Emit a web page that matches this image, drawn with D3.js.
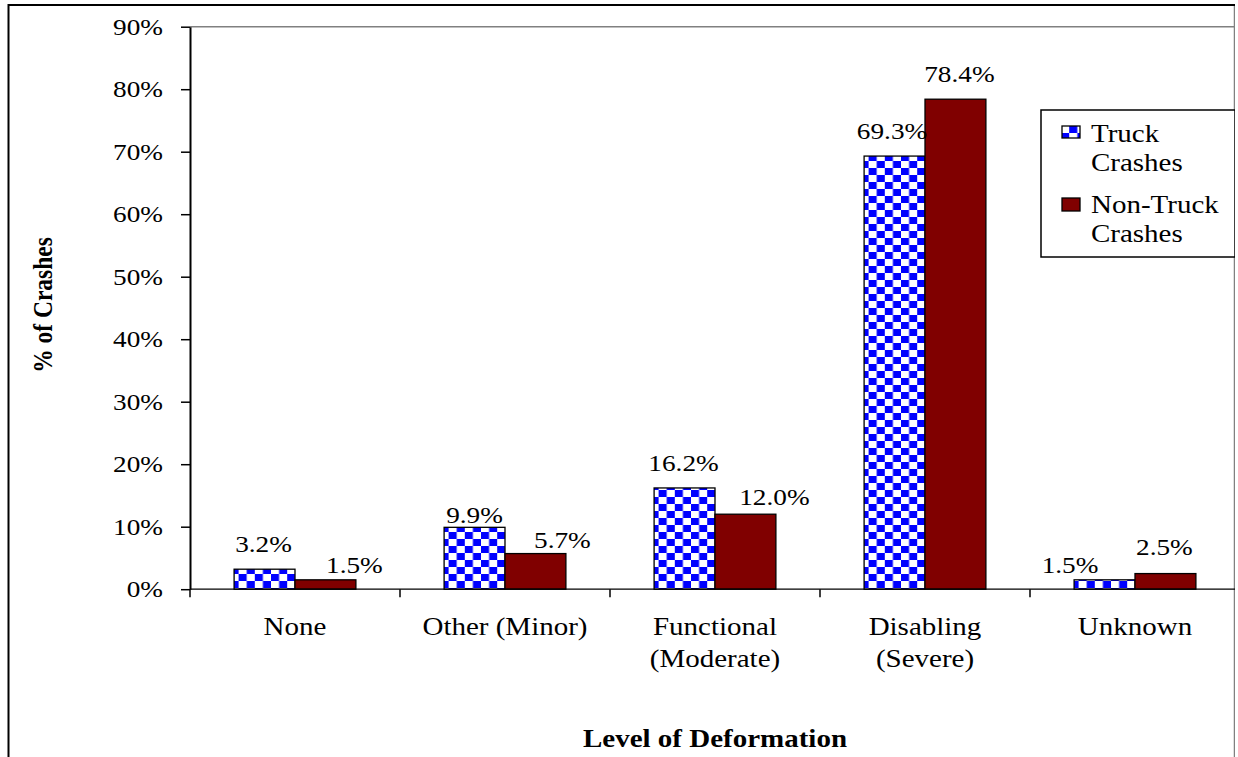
<!DOCTYPE html>
<html>
<head>
<meta charset="utf-8">
<script src="https://cdn.jsdelivr.net/npm/d3@7"></script>
<style>
  html, body { margin: 0; padding: 0; background: #fff; }
  svg { display: block; }
</style>
</head>
<body>
<svg id="chart" width="1238" height="757"></svg>
<script>
// ---- data ----
const categories = ["None", "Other (Minor)", "Functional\n(Moderate)", "Disabling\n(Severe)", "Unknown"];
const truckPct = [3.2, 9.9, 16.2, 69.3, 1.5];
const nonTruckPct = [1.5, 5.7, 12.0, 78.4, 2.5];
const seriesNames = ["Truck\nCrashes", "Non-Truck\nCrashes"];
const yTickValues = [0, 10, 20, 30, 40, 50, 60, 70, 80, 90];

// hand-placed offsets of the value labels [dx, dy] in px
const truckLabelNudge = [[-1, 0], [0, 13], [-1, 0], [-2.5, 0], [-34.5, 10]];
const nonTruckLabelNudge = [[29, 10], [27, 11], [29, 8], [4, 0], [-1, -1.5]];

// ---- layout ----
const W = 1238, H = 757;
const SX = 1.16;                 // glyphs are drawn slightly wide
const plot = { left: 190, right: 1240, top: 26.7, bottom: 589.2 };
const FONT = '"Liberation Serif", "Times New Roman", serif';
const FONT_NUM = 23.5, FONT_CAT = 25, FONT_TITLE = 25, FONT_YTITLE = 23.5;
const TRUCK_FILL = "url(#checker)", NONTRUCK_FILL = "#800000";

const svg = d3.select("#chart");
const defs = svg.append("defs");

// blue / white checkerboard fill
const pat = defs.append("pattern")
  .attr("id", "checker").attr("patternUnits", "userSpaceOnUse")
  .attr("width", 16.2).attr("height", 14);
pat.append("rect").attr("width", 16.2).attr("height", 14).attr("fill", "#fff");
pat.append("rect").attr("x", 0).attr("y", 0).attr("width", 8.1).attr("height", 7).attr("fill", "#0000ff");
pat.append("rect").attr("x", 8.1).attr("y", 7).attr("width", 8.1).attr("height", 7).attr("fill", "#0000ff");

defs.append("clipPath").attr("id", "frame")
  .append("rect").attr("x", 0).attr("y", 0).attr("width", 1235).attr("height", H);

const root = svg.append("g").attr("clip-path", "url(#frame)");

// text styling shared by every label
function styleText(sel, size, bold) {
  return sel.style("font-family", FONT).style("font-size", size + "px")
    .style("font-weight", bold ? "bold" : "normal").style("fill", "#000");
}
// place a text element at (x, y) with horizontally widened glyphs
function placeText(sel, x, y) {
  return sel.attr("x", x / SX).attr("y", y).attr("transform", `scale(${SX},1)`);
}

// ---- scales ----
const x = d3.scaleBand().domain(categories).range([plot.left, plot.right]).paddingInner(0).paddingOuter(0);
const groupW = x.bandwidth() * 0.58;
const xs = d3.scaleBand().domain([0, 1])
  .range([(x.bandwidth() - groupW) / 2, (x.bandwidth() + groupW) / 2]);
const y = d3.scaleLinear().domain([0, 90]).range([plot.bottom, plot.top]);

// ---- frame ----
root.append("line").attr("x1", 1234.5).attr("x2", 1234.5).attr("y1", 5).attr("y2", H)
  .attr("stroke", "#808080").attr("stroke-width", 1.5);
root.append("line").attr("x1", plot.left).attr("x2", 1235).attr("y1", y(90)).attr("y2", y(90))
  .attr("stroke", "#808080").attr("stroke-width", 1.5);

// ---- bars ----
const rows = categories.map((c, i) => ({ cat: c, i, vals: [truckPct[i], nonTruckPct[i]] }));
const groups = root.append("g").selectAll("g").data(rows).join("g")
  .attr("transform", d => `translate(${x(d.cat)},0)`);

groups.selectAll("rect")
  .data(d => d.vals.map((v, s) => ({ v, s })))
  .join("rect")
  .attr("x", d => xs(d.s))
  .attr("width", xs.bandwidth())
  .attr("y", d => y(d.v))
  .attr("height", d => y(0) - y(d.v))
  .attr("fill", d => d.s === 0 ? TRUCK_FILL : NONTRUCK_FILL)
  .attr("stroke", "#000").attr("stroke-width", 1.3);

// ---- value labels ----
const fmt = d3.format(".1f");
const labelData = [];
rows.forEach(r => {
  r.vals.forEach((v, s) => {
    const n = s === 0 ? truckLabelNudge[r.i] : nonTruckLabelNudge[r.i];
    labelData.push({
      v,
      cx: x(r.cat) + xs(s) + xs.bandwidth() / 2 + n[0],
      by: y(v) - 17 + n[1]
    });
  });
});
root.append("g").selectAll("text").data(labelData).join("text")
  .attr("text-anchor", "middle")
  .text(d => fmt(d.v) + "%")
  .each(function (d) { styleText(placeText(d3.select(this), d.cx, d.by), FONT_NUM, false); });

// ---- y axis ----
const yAxis = root.append("g").attr("transform", `translate(${plot.left},0)`)
  .call(d3.axisLeft(y).tickValues(yTickValues).tickFormat(d => d + "%")
    .tickSize(9).tickSizeOuter(0).tickPadding(18));
yAxis.select(".domain").attr("stroke", "#000").attr("stroke-width", 2);
yAxis.selectAll(".tick line").attr("stroke", "#000").attr("stroke-width", 1.5);
yAxis.selectAll(".tick text")
  .each(function () {
    const t = d3.select(this);
    t.attr("x", -27 / SX).attr("transform", `scale(${SX},1)`);
    styleText(t, FONT_NUM, false);
  });

// ---- x axis ----
root.append("line").attr("x1", plot.left).attr("x2", plot.right)
  .attr("y1", y(0)).attr("y2", y(0)).attr("stroke", "#000").attr("stroke-width", 1.3);
const bounds = d3.range(categories.length + 1).map(i => plot.left + i * x.step());
root.append("g").selectAll("line").data(bounds).join("line")
  .attr("x1", d => d).attr("x2", d => d)
  .attr("y1", y(0)).attr("y2", y(0) + 8)
  .attr("stroke", "#000").attr("stroke-width", 1.5);

root.append("g").selectAll("text").data(categories).join("text")
  .attr("text-anchor", "middle")
  .each(function (d) {
    const cx = x(d) + x.bandwidth() / 2;
    const t = styleText(placeText(d3.select(this), cx, 635), FONT_CAT, false);
    d.split("\n").forEach((line, k) => {
      t.append("tspan").attr("x", cx / SX).attr("dy", k === 0 ? 0 : 32.5).text(line);
    });
  });

// ---- axis titles ----
styleText(placeText(root.append("text"), (plot.left + plot.right) / 2, 746.7), FONT_TITLE, true)
  .attr("text-anchor", "middle")
  .text("Level of Deformation");

styleText(root.append("text"), FONT_YTITLE, true)
  .attr("transform", `translate(52,305) scale(${SX},1) rotate(-90)`)
  .attr("text-anchor", "middle")
  .text("% of Crashes");

// ---- legend ----
const legend = root.append("g");
legend.append("rect").attr("x", 1041).attr("y", 110).attr("width", 194).attr("height", 147)
  .attr("fill", "#fff").attr("stroke", "#000").attr("stroke-width", 1.5);
const legendRows = [
  { name: seriesNames[0], fill: TRUCK_FILL, sy: 126, sh: 12, base: 142 },
  { name: seriesNames[1], fill: NONTRUCK_FILL, sy: 198, sh: 13, base: 213 }
];
legendRows.forEach(r => {
  legend.append("rect").attr("x", 1062).attr("y", r.sy).attr("width", 18).attr("height", r.sh)
    .attr("fill", r.fill).attr("stroke", "#000").attr("stroke-width", 1.3);
  const t = styleText(placeText(legend.append("text"), 1091, r.base), FONT_CAT, false);
  r.name.split("\n").forEach((line, k) => {
    t.append("tspan").attr("x", 1091 / SX).attr("dy", k === 0 ? 0 : 29.5).text(line);
  });
});

// ---- outer border ----
root.append("line").attr("x1", 8.5).attr("x2", 8.5).attr("y1", 4).attr("y2", H)
  .attr("stroke", "#000").attr("stroke-width", 2);
root.append("line").attr("x1", 8).attr("x2", 1235).attr("y1", 5).attr("y2", 5)
  .attr("stroke", "#000").attr("stroke-width", 2);
</script>
</body>
</html>
